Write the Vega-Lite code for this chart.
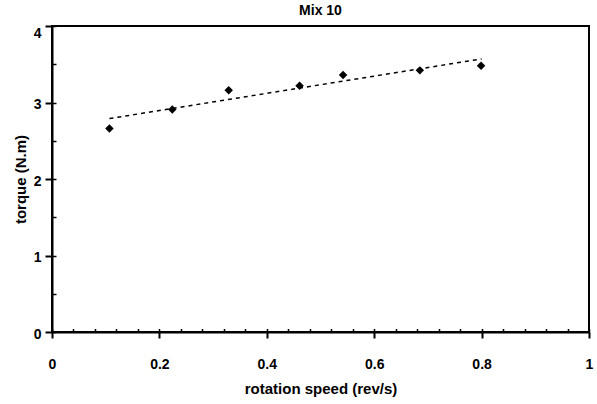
{
  "$schema": "https://vega.github.io/schema/vega-lite/v6.json",
  "width": 537,
  "height": 306,
  "autosize": {"type": "none"},
  "padding": {"left": 52, "top": 26, "right": 8, "bottom": 72},
  "background": "white",
  "title": {"text": "Mix 10", "fontSize": 14, "font": "Liberation Sans", "fontWeight": "bold", "offset": 7, "anchor": "middle", "color": "black"},
  "config": {
    "view": {"stroke": "black", "strokeWidth": 2},
    "axis": {
      "labelFont": "Liberation Sans", "titleFont": "Liberation Sans",
      "labelFontWeight": "bold", "titleFontWeight": "bold",
      "labelColor": "black", "titleColor": "black",
      "domainColor": "black", "tickColor": "black",
      "grid": false, "labelFontSize": 14, "titleFontSize": 15
    }
  },
  "datasets": {
    "pts": [
      {"speed": 0.107, "torque": 2.66},
      {"speed": 0.224, "torque": 2.91},
      {"speed": 0.329, "torque": 3.16},
      {"speed": 0.461, "torque": 3.22},
      {"speed": 0.542, "torque": 3.36},
      {"speed": 0.685, "torque": 3.42},
      {"speed": 0.799, "torque": 3.48}
    ],
    "fit": [
      {"speed": 0.107, "torque": 2.79},
      {"speed": 0.8, "torque": 3.57}
    ]
  },
  "layer": [
    {
      "data": {"name": "pts"},
      "mark": {"type": "point", "shape": "diamond", "filled": true, "size": 72, "color": "black", "opacity": 1},
      "encoding": {
        "x": {
          "field": "speed", "type": "quantitative",
          "scale": {"domain": [0, 1], "nice": false, "zero": false},
          "axis": {"orient": "bottom", "values": [0, 0.2, 0.4, 0.6, 0.8, 1], "format": "~g", "tickSize": 6, "tickWidth": 2, "domainWidth": 2, "labelPadding": 19, "title": "rotation speed (rev/s)", "titlePadding": 10, "labelFlush": false}
        },
        "y": {
          "field": "torque", "type": "quantitative",
          "scale": {"domain": [0, 4], "nice": false, "zero": false},
          "axis": {
            "orient": "left", "values": [0, 1, 2, 3, 4], "format": "d", "tickSize": 7, "tickWidth": 2, "domainWidth": 2, "labelPadding": 4,
            "labelBaseline": {"condition": {"test": "datum.value == 4", "value": "top"}, "value": "middle"},
            "labelOffset": {"condition": {"test": "datum.value == 4", "value": 0}, "value": 2},
            "title": "torque (N.m)", "titlePadding": 5, "labelFlush": false
          }
        }
      }
    },
    {
      "data": {"name": "fit"},
      "mark": {"type": "line", "color": "black", "strokeWidth": 1.5, "strokeDash": [4, 4]},
      "encoding": {
        "x": {
          "field": "speed", "type": "quantitative",
          "axis": {"orient": "bottom", "values": [0, 0.04, 0.08, 0.12, 0.16, 0.2, 0.24, 0.28, 0.32, 0.36, 0.4, 0.44, 0.48, 0.52, 0.56, 0.6, 0.64, 0.68, 0.72, 0.76, 0.8, 0.84, 0.88, 0.92, 0.96, 1], "labels": false, "domain": false, "tickSize": -3.5, "tickWidth": 1.5, "title": null}
        },
        "y": {
          "field": "torque", "type": "quantitative",
          "axis": {"orient": "left", "values": [0, 0.5, 1, 1.5, 2, 2.5, 3, 3.5, 4], "labels": false, "domain": false, "tickSize": -4, "tickWidth": 1.5, "title": null}
        }
      }
    }
  ],
  "resolve": {"axis": {"x": "independent", "y": "independent"}}
}
